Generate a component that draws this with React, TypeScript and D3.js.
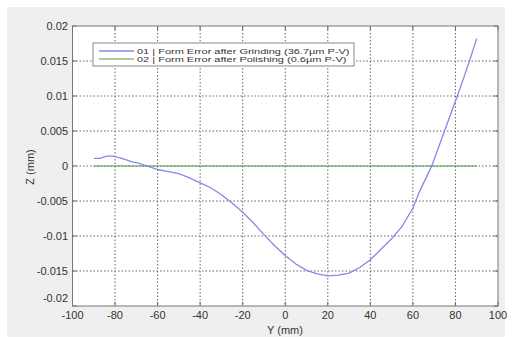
import React from "react";
import * as d3 from "d3";

const yPos: number[] = [-90, -87, -84, -81, -78, -75, -72, -69, -66, -63, -60, -55, -50, -45, -40, -35, -30, -25, -20, -15, -10, -5, 0, 5, 10, 15, 20, 25, 30, 35, 40, 45, 50, 55, 60, 63, 66, 69, 72, 75, 78, 81, 84, 87, 90];
const grindingZ: number[] = [0.0011, 0.0011, 0.0014, 0.0014, 0.0012, 0.0009, 0.0006, 0.0004, 0.0001, -0.0002, -0.0005, -0.0008, -0.0011, -0.0017, -0.0024, -0.0031, -0.0041, -0.0053, -0.0066, -0.0081, -0.0098, -0.0114, -0.0128, -0.014, -0.0149, -0.0154, -0.0157, -0.0156, -0.0153, -0.0145, -0.0134, -0.0119, -0.0104, -0.0086, -0.006, -0.0037, -0.0018, 0.0001, 0.0026, 0.0051, 0.0076, 0.0101, 0.0127, 0.0154, 0.0182];
const polishingZ: number[] = yPos.map(() => 0);

const xTicks: number[] = [-100, -80, -60, -40, -20, 0, 20, 40, 60, 80, 100];
const yTicks: number[] = [-0.02, -0.015, -0.01, -0.005, 0, 0.005, 0.01, 0.015, 0.02];
const yTickLabels: string[] = ["-0.02", "-0.015", "-0.01", "-0.005", "0", "0.005", "0.01", "0.015", "0.02"];
const seriesNames: string[] = [
  "01  |  Form Error after Grinding (36.7µm P-V)",
  "02  |  Form Error after Polishing (0.6µm P-V)",
];
const seriesColors: string[] = ["#8a86e6", "#4f9a4f"];

const W = 524, H = 338;
const L = 72.5, R = 498, T = 26, B = 306;

export default function App() {
  const x = d3.scaleLinear().domain([-100, 100]).range([L, R]);
  const y = d3.scaleLinear().domain([-0.02, 0.02]).range([B, T]);
  const line = d3.line<number>().x((_, i) => x(yPos[i])).y((d) => y(d));
  const font = "'Liberation Sans', Arial, sans-serif";
  return (
    <svg width={W} height={H} style={{ position: "absolute", left: 0, top: 0 }}>
      <rect x={0} y={0} width={W} height={H} fill="#ffffff" />
      <rect x={7} y={7} width={498} height={330} fill="#efefef" />
      <rect x={L} y={T} width={R - L} height={B - T} fill="#ffffff" />
      {/* grid */}
      {xTicks.slice(1, -1).map((t) => (
        <line key={"gx" + t} x1={x(t)} x2={x(t)} y1={T} y2={B} stroke="#666" strokeWidth={1} strokeDasharray="1.5,2" />
      ))}
      {yTicks.slice(1, -1).map((t) => (
        <line key={"gy" + t} x1={L} x2={R} y1={y(t)} y2={y(t)} stroke="#666" strokeWidth={1} strokeDasharray="1.5,2" />
      ))}
      {/* ticks */}
      {xTicks.map((t) => (
        <g key={"tx" + t}>
          <line x1={x(t)} x2={x(t)} y1={B} y2={B - 4} stroke="#666" />
          <line x1={x(t)} x2={x(t)} y1={T} y2={T + 4} stroke="#666" />
          <text x={x(t)} y={315} fontSize={11} fontFamily={font} fill="#333" textAnchor="middle" dominantBaseline="central">{t}</text>
        </g>
      ))}
      {yTicks.map((t, i) => (
        <g key={"ty" + t}>
          <line x1={L} x2={L + 4} y1={y(t)} y2={y(t)} stroke="#666" />
          <line x1={R} x2={R - 4} y1={y(t)} y2={y(t)} stroke="#666" />
          <text x={68} y={i === 0 ? 298 : y(t)} fontSize={11} fontFamily={font} fill="#333" textAnchor="end" dominantBaseline="central">{yTickLabels[i]}</text>
        </g>
      ))}
      {/* series */}
      <path d={line(polishingZ) || ""} fill="none" stroke={seriesColors[1]} strokeWidth={1} />
      <path d={line(grindingZ) || ""} fill="none" stroke={seriesColors[0]} strokeWidth={1.3} />
      {/* box */}
      <rect x={L} y={T} width={R - L} height={B - T} fill="none" stroke="#777" strokeWidth={1} />
      {/* axis labels */}
      <text x={285} y={330} fontSize={11} fontFamily={font} fill="#333" textAnchor="middle" dominantBaseline="central">Y (mm)</text>
      <text transform="translate(30,167) rotate(-90)" fontSize={11} fontFamily={font} fill="#333" textAnchor="middle" dominantBaseline="central">Z (mm)</text>
      {/* legend */}
      <rect x={93} y={43} width={261} height={23} fill="#ffffff" stroke="#888" strokeWidth={1} />
      {seriesNames.map((n, i) => (
        <g key={n}>
          <line x1={99} x2={134} y1={51 + i * 8} y2={51 + i * 8} stroke={seriesColors[i]} strokeWidth={i === 0 ? 1.3 : 1} />
          <text transform={`translate(137,${51 + i * 8}) scale(1,0.7)`} fontSize={11} fontFamily={font} fill="#333" dominantBaseline="central">{n}</text>
        </g>
      ))}
    </svg>
  );
}
